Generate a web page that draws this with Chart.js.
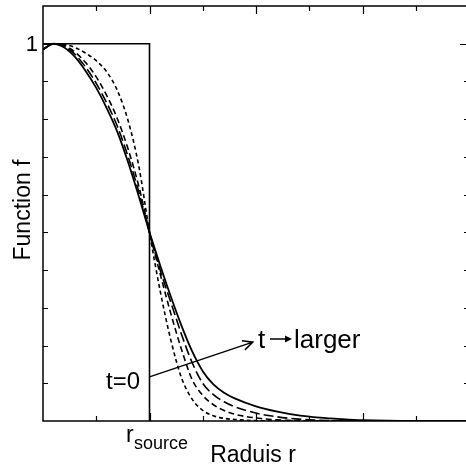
<!DOCTYPE html>
<html>
<head>
<meta charset="utf-8">
<script src="https://cdn.jsdelivr.net/npm/chart.js@4/dist/chart.umd.min.js"></script>
<style>
  html, body { margin: 0; padding: 0; overflow: hidden; background: #fff; }
  canvas { display: block; }
</style>
</head>
<body>
<canvas id="c" width="470" height="470"></canvas>
<script>
// Radial positions (units of r_source) and profiles f(r) at increasing times
const radius = [0, 0.1, 0.2, 0.3, 0.4, 0.5, 0.6, 0.7, 0.8, 0.9, 1.0, 1.1, 1.2, 1.3, 1.4, 1.5, 1.6, 1.7, 1.8, 2.0, 2.2, 2.4, 2.6, 2.8, 3.0, 3.5, 4.0];
const fEarly  = [0.985, 1.0, 0.998, 0.99, 0.975, 0.955, 0.925, 0.875, 0.795, 0.675, 0.5, 0.345, 0.215, 0.115, 0.058, 0.028, 0.014, 0.007, 0.004, 0.001, 0, 0, 0, 0, 0, 0, 0];
const fMid    = [0.985, 1.0, 0.995, 0.978, 0.95, 0.912, 0.862, 0.80, 0.72, 0.622, 0.5, 0.39, 0.285, 0.19, 0.11, 0.068, 0.043, 0.028, 0.018, 0.008, 0.003, 0.001, 0, 0, 0, 0, 0];
const fLater  = [0.985, 1.0, 0.993, 0.972, 0.938, 0.895, 0.842, 0.78, 0.70, 0.607, 0.5, 0.40, 0.315, 0.23, 0.155, 0.10, 0.07, 0.051, 0.038, 0.021, 0.011, 0.005, 0.002, 0.001, 0, 0, 0];
const fLatest = [0.985, 1.0, 0.99, 0.965, 0.928, 0.883, 0.828, 0.765, 0.685, 0.595, 0.5, 0.413, 0.33, 0.253, 0.185, 0.132, 0.097, 0.075, 0.06, 0.039, 0.025, 0.015, 0.009, 0.005, 0.002, 0, 0];

// Initial step profile (t = 0)
const stepR = [0, 1, 1];
const stepF = [1, 1, 0];

// Axis tick positions
const xTicks = [0.5, 1, 1.5, 2, 2.5, 3, 3.5];
const xMajor = [1, 2, 3];
const yTicks = [0.1, 0.2, 0.3, 0.4, 0.5, 0.6, 0.7, 0.8, 0.9, 1.0];
const yLabels = ['1'];
const yLabelValues = [1.0];

const pts = (xs, ys) => xs.map((x, i) => ({ x: x, y: ys[i] }));
const FONT = '"Liberation Sans", Arial, Helvetica, sans-serif';

function curve(values, dash, width) {
  return {
    data: pts(radius, values),
    borderColor: '#000',
    borderWidth: width,
    borderDash: dash,
    pointRadius: 0,
    fill: false,
    cubicInterpolationMode: 'monotone'
  };
}

const decor = {
  id: 'decor',
  afterDraw(chart) {
    const { ctx, chartArea: a, scales } = chart;
    const xs = scales.x, ys = scales.y;
    ctx.save();
    ctx.strokeStyle = '#000';
    ctx.fillStyle = '#000';

    // frame
    ctx.lineWidth = 1.5;
    ctx.strokeRect(a.left, a.top, a.right - a.left, a.bottom - a.top);

    // inward ticks
    ctx.lineWidth = 1.2;
    ctx.beginPath();
    xTicks.forEach(v => {
      const px = Math.round(xs.getPixelForValue(v)) + 0.5;
      const len = xMajor.includes(v) ? 8 : 5;
      ctx.moveTo(px, a.bottom); ctx.lineTo(px, a.bottom - len);
      ctx.moveTo(px, a.top); ctx.lineTo(px, a.top + len);
    });
    yTicks.forEach(v => {
      const py = Math.round(ys.getPixelForValue(v)) + 0.5;
      const len = v === 1.0 ? 9 : 5;
      ctx.moveTo(a.left, py); ctx.lineTo(a.left + len, py);
      ctx.moveTo(a.right, py); ctx.lineTo(a.right - len, py);
    });
    ctx.stroke();

    // y tick label
    ctx.font = '22px ' + FONT;
    ctx.textAlign = 'right';
    ctx.textBaseline = 'middle';
    yLabels.forEach((t, i) => ctx.fillText(t, a.left - 5, ys.getPixelForValue(yLabelValues[i]) + 1));

    // axis titles
    ctx.font = '23px ' + FONT;
    ctx.textAlign = 'center';
    ctx.textBaseline = 'alphabetic';
    ctx.fillText('Raduis r', 253, 462);
    ctx.save();
    ctx.translate(30, 210);
    ctx.rotate(-Math.PI / 2);
    ctx.fillText('Function f', 0, 0);
    ctx.restore();

    // r_source label under the step edge
    ctx.textAlign = 'left';
    ctx.font = '23px ' + FONT;
    ctx.fillText('r', 126, 442);
    ctx.font = '18px ' + FONT;
    ctx.fillText('source', 134, 449);

    // t=0 label
    ctx.font = '24px ' + FONT;
    ctx.textAlign = 'right';
    ctx.fillText('t=0', 140, 389);

    // arrow showing growing time
    const x0 = xs.getPixelForValue(1.0), y0 = ys.getPixelForValue(0.117);
    const x1 = xs.getPixelForValue(1.97), y1 = ys.getPixelForValue(0.209);
    ctx.lineWidth = 1.5;
    ctx.beginPath();
    ctx.moveTo(x0, y0); ctx.lineTo(x1, y1);
    const ang = Math.atan2(y1 - y0, x1 - x0);
    const h = 11;
    ctx.moveTo(x1 - h * Math.cos(ang - 0.45), y1 - h * Math.sin(ang - 0.45));
    ctx.lineTo(x1, y1);
    ctx.lineTo(x1 - h * Math.cos(ang + 0.45), y1 - h * Math.sin(ang + 0.45));
    ctx.stroke();

    // "t -> larger" label
    ctx.font = '26px ' + FONT;
    ctx.textAlign = 'left';
    ctx.fillText('t', 258, 348);
    ctx.lineWidth = 1.5;
    ctx.beginPath();
    ctx.moveTo(270, 339); ctx.lineTo(287, 339);
    ctx.stroke();
    ctx.beginPath();
    ctx.moveTo(292, 339); ctx.lineTo(285, 335.5); ctx.lineTo(285, 342.5); ctx.closePath();
    ctx.fill();
    ctx.fillText('larger', 294, 348);

    ctx.restore();
  }
};

new Chart(document.getElementById('c'), {
  type: 'line',
  data: {
    datasets: [
      {
        data: pts(stepR, stepF),
        borderColor: '#000',
        borderWidth: 1.6,
        pointRadius: 0,
        fill: false,
        tension: 0
      },
      curve(fEarly, [4, 3], 1.6),
      curve(fMid, [6, 3.5], 1.6),
      curve(fLater, [10, 4], 1.6),
      curve(fLatest, [], 1.8)
    ]
  },
  options: {
    responsive: false,
    animation: false,
    events: [],
    layout: { padding: { left: 43, top: 6, right: 1, bottom: 49 } },
    scales: {
      x: { type: 'linear', min: 0, max: 4, display: false },
      y: { type: 'linear', min: 0, max: 1.1, display: false }
    },
    plugins: { legend: { display: false }, tooltip: { enabled: false } }
  },
  plugins: [decor]
});
</script>
</body>
</html>
